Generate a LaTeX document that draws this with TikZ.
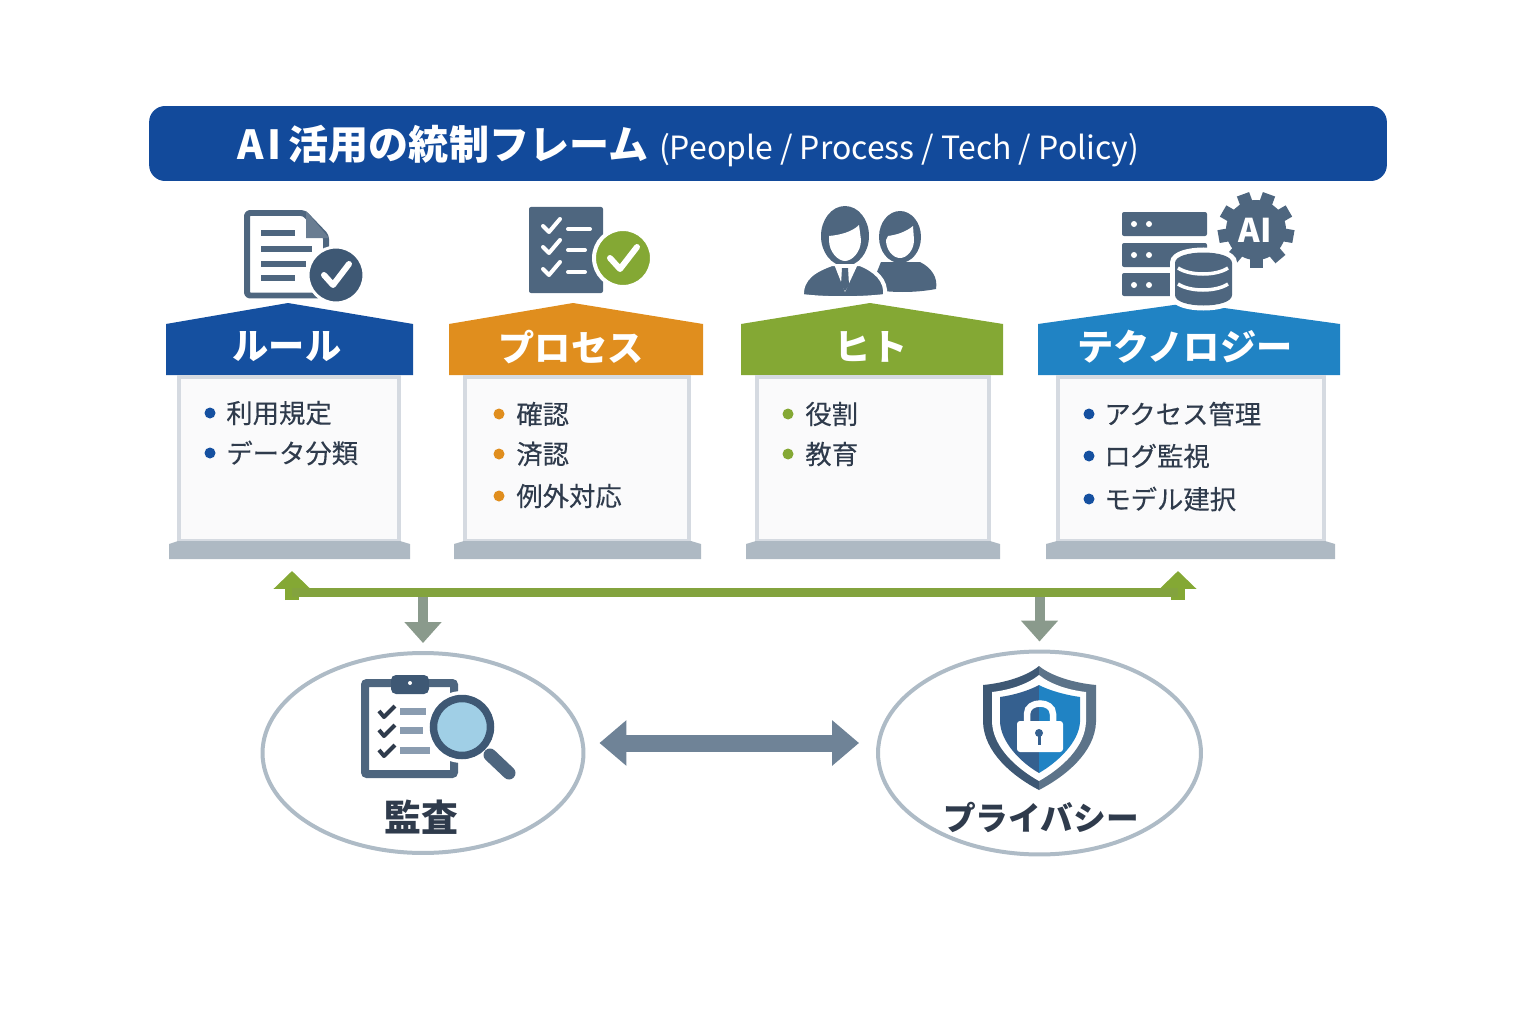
\documentclass[tikz,border=0pt]{standalone}
\usepackage{fontspec}
\setmainfont{Noto Sans CJK JP}
\newfontfamily\itemfont[FakeBold=0.2]{Noto Sans CJK JP}
\usetikzlibrary{arrows.meta}
\usetikzlibrary{shapes.geometric}
\definecolor{titleblue}{RGB}{18,74,155}
\definecolor{ruleblue}{RGB}{21,80,160}
\definecolor{procorange}{RGB}{224,142,30}
\definecolor{peoplegreen}{RGB}{132,168,52}
\definecolor{techblue}{RGB}{32,131,196}
\definecolor{busgreen}{RGB}{131,163,62}
\definecolor{dropgrey}{RGB}{138,154,140}
\definecolor{slate}{RGB}{78,102,127}
\definecolor{slatedark}{RGB}{62,88,116}
\definecolor{inkdark}{RGB}{47,59,76}
\definecolor{basegrey}{RGB}{174,185,195}
\definecolor{boxline}{RGB}{213,218,225}
\definecolor{boxfill}{RGB}{250,250,251}
\definecolor{ringgrey}{RGB}{174,187,198}
\definecolor{linkgrey}{RGB}{111,131,151}
\definecolor{barblue}{RGB}{138,156,176}
\definecolor{lensblue}{RGB}{160,207,230}
\definecolor{shieldleft}{RGB}{53,96,143}
\definecolor{shieldright}{RGB}{92,115,137}
\tikzset{
  headtext/.style={white, font=\bfseries\fontsize{20.6}{24}\selectfont, inner sep=0pt},
  itemtext/.style={inkdark, anchor=west, font=\itemfont\fontsize{15}{18}\selectfont, inner sep=0pt},
  bodybox/.style={draw=boxline, fill=boxfill, line width=0.08cm, inner sep=0pt},
  ovalbox/.style={draw=ringgrey, fill=white, line width=0.08cm, inner sep=0pt, ellipse},
  checkline/.style={white, line width=0.12cm, line cap=round, line join=round},
  upper/.style={peoplegreen, line width=0.28cm, -{Triangle[length=0.36cm,width=0.72cm]}},
  dropper/.style={dropgrey, line width=0.2cm, -{Triangle[length=0.42cm,width=0.72cm]}},
}

\begin{document}
\begin{tikzpicture}[x=0.02cm, y=-0.02cm]
  \useasboundingbox (0,0) rectangle (1536,1024);

  % Title bar
  \node[fill=titleblue, rounded corners=0.32cm, minimum width=24.76cm, minimum height=1.5cm, inner sep=0pt] %
    (titlebar) at (768,143.5) {};
  \node[white, anchor=west, inner sep=0pt] (titletext) at (237,146) %
    {\fontsize{22.8}{26}\selectfont\bfseries A\hspace{0.08cm}I\hspace{0.14cm}活用の統制フレーム\hspace{0.22cm}%
     \fontsize{18.2}{26}\selectfont\mdseries (People / Process / Tech / Policy)};

  % Rule pillar
  \fill[ruleblue] (166,375) -- (166,324) -- (288,303) -- (413,324) -- (413,375) -- cycle;
  \node[headtext] (rulehead) at (287,347) {ルール};
  \node[bodybox, minimum width=4.4cm, minimum height=3.3cm] (rulebody) at (289,459) {};
  \fill[basegrey] (169,559) -- (169,544) -- (178,541) -- (400,541) -- (410,544) -- (410,559) -- cycle;
  \coordinate (rulefoot) at (292,559);
  \fill[ruleblue] (210,413) circle (5.5);
  \fill[ruleblue] (210,453) circle (5.5);
  \node[itemtext] (rule1) at (226,413) {利用規定};
  \node[itemtext] (rule2) at (226,453) {データ分類};

  % Process pillar
  \fill[procorange] (449,375) -- (449,324) -- (573,303) -- (703,324) -- (703,375) -- cycle;
  \node[headtext] (prochead) at (571,347) {プロセス};
  \node[bodybox, minimum width=4.5cm, minimum height=3.3cm] (procbody) at (577,459) {};
  \fill[basegrey] (454,559) -- (454,544) -- (464,541) -- (691,541) -- (701,544) -- (701,559) -- cycle;
  \fill[procorange] (499,414) circle (5.5);
  \fill[procorange] (499,454) circle (5.5);
  \fill[procorange] (499,496) circle (5.5);
  \node[itemtext] (proc1) at (516,414) {確認};
  \node[itemtext] (proc2) at (516,454) {済認};
  \node[itemtext] (proc3) at (516,496) {例外対応};

  % People pillar
  \fill[peoplegreen] (741,375) -- (741,324) -- (870,303) -- (1003,324) -- (1003,375) -- cycle;
  \node[headtext] (hitohead) at (871,347) {ヒト};
  \node[bodybox, minimum width=4.64cm, minimum height=3.3cm] (hitobody) at (873,459) {};
  \fill[basegrey] (746,559) -- (746,544) -- (756,541) -- (990,541) -- (1000,544) -- (1000,559) -- cycle;
  \fill[peoplegreen] (788,414) circle (5.5);
  \fill[peoplegreen] (788,454) circle (5.5);
  \node[itemtext] (hito1) at (805,414) {役割};
  \node[itemtext] (hito2) at (805,454) {教育};

  % Tech pillar
  \fill[techblue] (1038,375) -- (1038,324) -- (1188,303) -- (1340,324) -- (1340,375) -- cycle;
  \node[headtext] (techhead) at (1185,347) {テクノロジー};
  \node[bodybox, minimum width=5.32cm, minimum height=3.3cm] (techbody) at (1191,459) {};
  \fill[basegrey] (1046,559) -- (1046,544) -- (1057,541) -- (1325,541) -- (1335,544) -- (1335,559) -- cycle;
  \coordinate (techfoot) at (1178,559);
  \fill[ruleblue] (1089,414) circle (5.5);
  \fill[ruleblue] (1089,456) circle (5.5);
  \fill[ruleblue] (1089,499) circle (5.5);
  \node[itemtext] (tech1) at (1104,414) {アクセス管理};
  \node[itemtext] (tech2) at (1104,456) {ログ監視};
  \node[itemtext] (tech3) at (1104,499) {モデル建択};

  % Document icon
  \draw[slate, line width=0.12cm, line join=round, rounded corners=0.06cm] %
    (326,255) -- (326,236) -- (304,213) -- (247,213) -- (247,295.5) -- (318,295.5);
  \fill[slate!85] (306,211) -- (329,238) -- (306,238) -- cycle;
  \foreach \y/\e in {233/295, 249/312, 264/306, 278/295}
    \fill[slate] (261,\y-3) rectangle (\e,\y+3);
  \fill[slatedark, draw=white, line width=0.06cm] (336,275) circle (28);
  \draw[checkline] (324,275) -- (333,285) -- (349,264);

  % Checklist icon
  \fill[slate, rounded corners=0.04cm] (529,207) rectangle (603,293);
  \foreach \y in {226,247,269} {
    \draw[white, line width=0.08cm, line cap=round, line join=round] (543,\y) -- (549,\y+6) -- (560,\y-7);
  }
  \draw[white, line width=0.08cm, line cap=round] (568,229) -- (590,229);
  \draw[white, line width=0.08cm, line cap=round] (568,250) -- (585,250);
  \draw[white, line width=0.08cm, line cap=round] (568,272) -- (585,272);
  \fill[peoplegreen, draw=white, line width=0.08cm] (623,258) circle (29);
  \draw[checkline] (610,258) -- (620,269) -- (637,247);

  % People icon, back person first
  \fill[slate] (881,262) -- (920,262) .. controls (932,268) and (938,278) .. (936,289) %
    .. controls (915,293) and (890,293) .. (870,289) -- cycle;
  \fill[slate] (900,237) ellipse [x radius=21, y radius=26];
  \fill[white] (888,236) .. controls (896,235) and (906,232) .. (913,226) -- (914,240) %
    .. controls (914,250) and (907,258) .. (900,258) .. controls (893,258) and (886,250) .. (886,240) -- cycle;
  \fill[slate, draw=white, line width=0.08cm] (802,296) .. controls (801,278) and (815,270) .. (832,264) %
    -- (860,264) .. controls (875,270) and (887,280) .. (885,296) %
    .. controls (860,299) and (825,299) .. (802,296) -- cycle;
  \fill[slate] (845,236) ellipse [x radius=24, y radius=30];
  \fill[white] (829,236) .. controls (840,235) and (852,232) .. (859,225) -- (861,240) %
    .. controls (861,252) and (852,261) .. (845,261) .. controls (838,261) and (829,252) .. (829,240) -- cycle;
  \fill[white] (834,264) -- (845,292) -- (858,264) -- cycle;
  \fill[slate] (842,268) -- (848,268) -- (849,285) -- (845,291) -- (841,285) -- cycle;

  % Tech icon, server then gear then cylinder
  \fill[slate, rounded corners=0.04cm] (1122,212) rectangle (1207,236);
  \fill[slate, rounded corners=0.04cm] (1122,243) rectangle (1207,267);
  \fill[slate, rounded corners=0.04cm] (1122,273) rectangle (1207,296);
  \foreach \y in {224,255,285} {
    \fill[white] (1134,\y) circle (3);
    \fill[white] (1149,\y) circle (3);
  }
  \begin{scope}[shift={(1256,230)}]
    \fill[slate] (0,0) circle (30);
    \foreach \a in {90,130,...,410}
      \draw[slate, line width=0.26cm] (\a:26) -- (\a:38);
  \end{scope}
  \node[white, inner sep=0pt, font=\bfseries\fontsize{18.6}{22}\selectfont] (gearlabel) at (1255,230) {AI};
  \path[fill=slate, preaction={draw=white, line width=0.2cm}] (1175,263) %
    .. controls (1175,249) and (1232,249) .. (1232,263) -- (1232,295) %
    .. controls (1232,309) and (1175,309) .. (1175,295) -- cycle;
  \draw[white, line width=0.07cm] (1178,268) .. controls (1190,276) and (1216,276) .. (1228,268);
  \draw[white, line width=0.07cm] (1178,284) .. controls (1190,292) and (1216,292) .. (1228,284);

  % Audit and privacy ovals
  \node[ovalbox, minimum width=6.42cm, minimum height=4cm] (audit) at (423,753) {};
  \node[ovalbox, minimum width=6.46cm, minimum height=4.06cm] (privacy) at (1039.5,753) {};
  \node[inkdark, inner sep=0pt, font=\bfseries\fontsize{21}{25}\selectfont] (auditlabel) at (421,817) {監査};
  \node[inkdark, inner sep=0pt, font=\bfseries\fontsize{18.6}{22}\selectfont] (privacylabel) at (1041,817) {プライバシー};

  % Green bus with arrows
  \coordinate (busleft) at (292,592);
  \coordinate (busright) at (1178,592);
  \draw[upper, shorten >=0.24cm] (292,600) -- (rulefoot);
  \draw[upper, shorten >=0.24cm] (1178,600) -- (techfoot);
  \draw[dropper, shorten >=0.16cm] (audit.north |- busleft) -- (audit.north);
  \draw[dropper, shorten >=0.16cm] (privacy.north |- busleft) -- (privacy.north);
  \draw[busgreen, line width=0.18cm] (busleft) -- (busright);

  % Link between ovals
  \draw[linkgrey, line width=0.34cm, %
      {Triangle[length=0.54cm,width=0.88cm]}-{Triangle[length=0.54cm,width=0.88cm]}] %
    ([shift={(14,-10)}]audit.east) -- ([shift={(-17,-10)}]privacy.west);

  % Audit icon
  \draw[slate, line width=0.16cm, rounded corners=0.04cm] (365,683) rectangle (454,774);
  \fill[slatedark, rounded corners=0.1cm] (391,675) rectangle (429,694);
  \fill[white] (410,683) circle (2);
  \foreach \y/\e in {711/426, 730/423, 750/430} {
    \draw[inkdark, line width=0.08cm, line join=round] (379,\y) -- (384,\y+6) -- (395,\y-5);
    \fill[barblue] (400,\y-3.5) rectangle (\e,\y+3.5);
  }
  \fill[white] (462,727) circle (36);
  \draw[slate, line width=0.26cm, line cap=round] (490,755) -- (509,773);
  \fill[lensblue, draw=slatedark, line width=0.15cm] (462,727) circle (28.5);

  % Privacy icon
  \fill[slatedark] (1039,666) .. controls (1027,676) and (1005,683) .. (983,685) -- (983,722) %
    .. controls (984,752) and (1012,776) .. (1039,790) -- cycle;
  \fill[shieldright] (1039,666) .. controls (1051,676) and (1074,683) .. (1096,685) -- (1096,722) %
    .. controls (1095,752) and (1066,776) .. (1039,790) -- cycle;
  \fill[white] (1039,675) .. controls (1028,684) and (1010,690) .. (992,692) -- (992,722) %
    .. controls (993,747) and (1016,768) .. (1039,781) .. controls (1062,768) and (1085,747) .. (1086,722) %
    -- (1086,692) .. controls (1068,690) and (1050,684) .. (1039,675) -- cycle;
  \fill[shieldleft] (1039,685) .. controls (1030,690) and (1015,695) .. (1000,697) -- (1000,722) %
    .. controls (1001,742) and (1020,762) .. (1039,773) -- cycle;
  \fill[techblue] (1039,685) .. controls (1048,690) and (1065,695) .. (1080,697) -- (1080,722) %
    .. controls (1079,742) and (1058,762) .. (1039,773) -- cycle;
  \draw[white, line width=0.13cm] (1027,722) -- (1027,714) .. controls (1027,700) and (1053,700) .. (1053,714) -- (1053,722);
  \fill[white, rounded corners=0.06cm] (1017,721) rectangle (1063,752);
  \fill[shieldleft] (1039,733) circle (4);
  \fill[shieldleft] (1037.5,733) rectangle (1040.5,745);
\end{tikzpicture}
\end{document}
